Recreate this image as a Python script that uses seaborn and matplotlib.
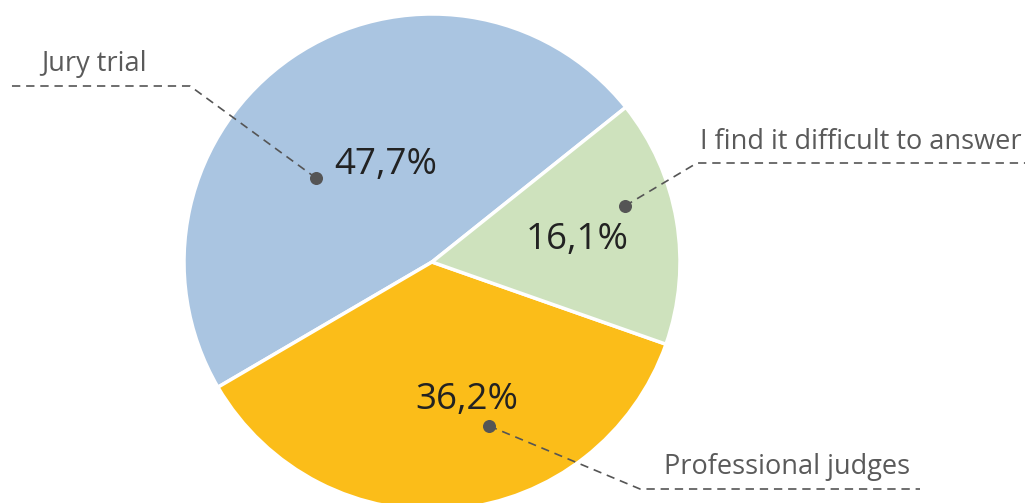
import numpy as np
import matplotlib
matplotlib.use("Agg")
import matplotlib.pyplot as plt
import seaborn as sns

# data
categorias = ["Jury trial", "Professional judges", "I find it difficult to answer"]
percentuais = [47.7, 36.2, 16.1]
rotulos_pct = ["47,7%", "36,2%", "16,1%"]
cores = ["#AAC5E1", "#FBBD19", "#CEE2BD"]

sns.set_theme(style="white")
plt.rcParams['font.family'] = ['Open Sans', 'DejaVu Sans']

W, H = 1025, 503
fig = plt.figure(figsize=(W / 100, H / 100), dpi=100)
ax = fig.add_axes([0, 0, 1, 1])

cx, cy, raio = 432, H - 262, 248
wedges, _ = ax.pie(percentuais, colors=sns.color_palette(cores), startangle=38.6,
                   counterclock=True, center=(cx, cy), radius=raio, frame=True,
                   wedgeprops=dict(edgecolor='white', linewidth=2.5))
ax.set_xlim(0, W)
ax.set_ylim(0, H)
ax.set_aspect('equal')
ax.axis('off')

# posicoes (polar) do ponto e do texto percentual, cotovelo e fim da linha (px)
ponto_polar = [(0.577, 144.1), (0.700, -70.8), (0.810, 16.2)]
pct_polar = [(0.432, 115.4), (0.574, -75.8), (0.592, 8.6)]
cotovelo = [(190, 86), (640, 489), (697, 163)]
fim_x = [10, 920, 1025]
texto_pos = [(94, 64), (787, 467), (861, 142)]

cor_linha = '#555555'
for i in range(len(categorias)):
    f, a = ponto_polar[i]
    px = cx + f * raio * np.cos(np.radians(a))
    py = cy + f * raio * np.sin(np.radians(a))
    ex, ey = cotovelo[i]
    ey = H - ey
    ax.plot([px, ex, fim_x[i]], [py, ey, ey], color=cor_linha, lw=1.2,
            dashes=(5, 3.5), zorder=5)
    ax.scatter([px], [py], s=70, color=cor_linha, zorder=6)
    f2, a2 = pct_polar[i]
    tx = cx + f2 * raio * np.cos(np.radians(a2))
    ty = cy + f2 * raio * np.sin(np.radians(a2))
    ax.text(tx, ty, rotulos_pct[i], ha='center', va='center', fontsize=26.5,
            color='#222222', zorder=7)
    lx, ly = texto_pos[i]
    ax.text(lx, H - ly, categorias[i], ha='center', va='center', fontsize=19.5,
            color='#5a5a5a', zorder=7)

fig.savefig('out.png', dpi=100)
